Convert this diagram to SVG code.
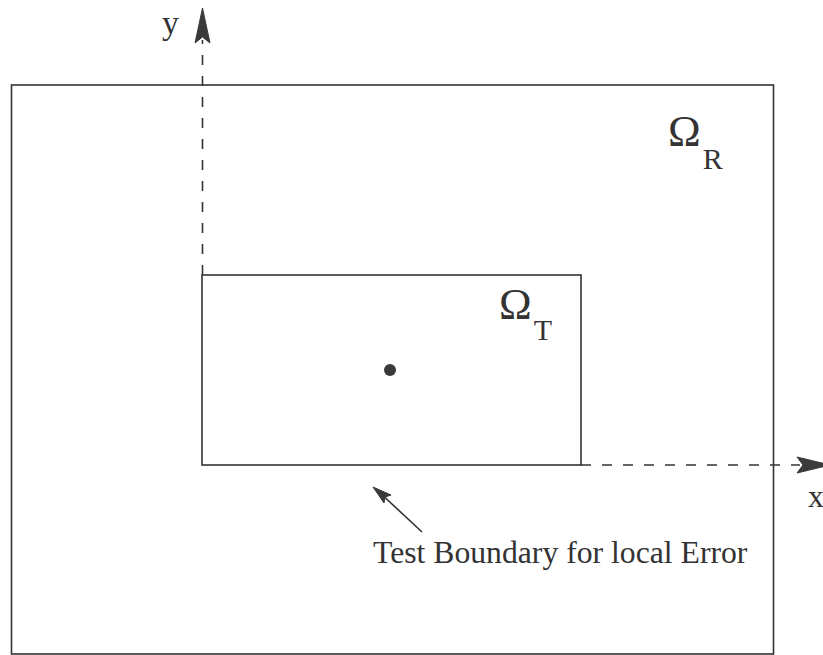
<svg xmlns="http://www.w3.org/2000/svg" width="823" height="655" viewBox="0 0 823 655">
<style>
.ln{fill:none;stroke:#333;stroke-width:1.6}
.da{fill:none;stroke:#333;stroke-width:1.6;stroke-dasharray:10 11}
.t{font-family:"Liberation Serif",serif;fill:#333}
.ah{fill:#3a3a3a;stroke:#3a3a3a;stroke-width:1}
</style>
<rect width="823" height="655" fill="#fff"/>
<g id="outer-region">
<rect class="ln" x="11.5" y="85" width="762" height="569"/>
<text class="t" x="668" y="146" font-size="44">Ω<tspan font-size="30" dy="23" dx="2">R</tspan></text>
</g>
<g id="test-region">
<rect class="ln" x="202" y="275" width="379" height="190"/>
<text class="t" x="499" y="319" font-size="44">Ω<tspan font-size="30" dy="21" dx="2">T</tspan></text>
<circle cx="390" cy="370" r="6" fill="#3a3a3a"/>
</g>
<g id="connectors">
<line class="da" x1="202.5" y1="275" x2="202.5" y2="40"/>
<path class="ah" d="M202.5 8 L210 43 L202.5 37 L195 43 Z"/>
<line class="da" x1="581" y1="465" x2="800" y2="465"/>
<path class="ah" d="M830 465 L797 457 L803 465 L797 473 Z"/>
<line class="ln" x1="422" y1="532" x2="378" y2="491"/>
<path class="ah" d="M373 487 L391 495 L385 497 L384 503 Z"/>
</g>
<g id="labels">
<text class="t" x="162" y="34" font-size="34">y</text>
<text class="t" x="808" y="507" font-size="32">x</text>
<text class="t" x="373" y="563" font-size="31.7">Test Boundary for local Error</text>
</g>
</svg>
